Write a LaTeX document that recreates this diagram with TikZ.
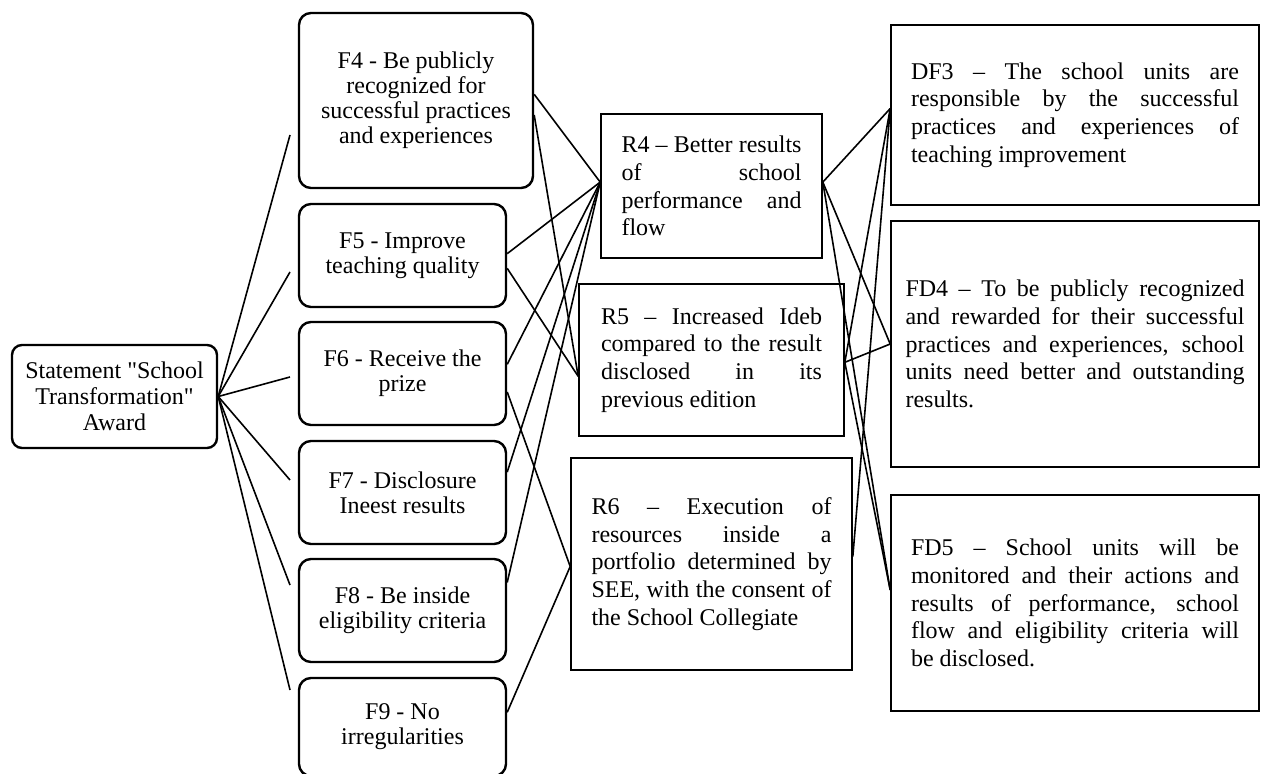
\documentclass[tikz,border=0pt]{standalone}
\usepackage{fontspec}
\setmainfont{Liberation Serif}[Ligatures=TeXOff]
\hyphenpenalty=10000
\tolerance=10000
\hbadness=10000

\begin{document}
\begin{tikzpicture}[x=0.5pt,y=-0.5pt]
            \tikzset{
            aw node/.style={draw,rounded corners=5pt,line width=1.2pt,align=center,inner sep=0,minimum width=102.5pt,minimum height=51.5pt,font=\fontsize{12}{13}\selectfont},
            fa node/.style={draw,rounded corners=6pt,line width=1.2pt,align=center,inner sep=0,minimum width=103.5pt,minimum height=51.5pt,font=\fontsize{12}{12.5}\selectfont},
            rs node/.style={draw,line width=0.8pt,align=justify,inner ysep=0,font=\fontsize{12}{13.8}\selectfont},
            link/.style={line width=0.8pt}
            }
            \useasboundingbox (0,0) rectangle (1261,774);
            \node[aw node] (St) at (114.5,396.5) {Statement "School\\Transformation"\\Award};
            \node[fa node,minimum width=117pt,minimum height=87.5pt] (F4) at (416,100.5) {F4 - Be publicly\\recognized for\\successful practices\\and experiences};
            \node[fa node] (F5) at (402.5,255.5) {F5 - Improve\\teaching quality};
            \node[fa node] (F6) at (402.5,373.5) {F6 - Receive the\\prize};
            \node[fa node] (F7) at (402.5,492.5) {F7 - Disclosure\\Ineest results};
            \node[fa node] (F8) at (402.5,610.5) {F8 - Be inside\\eligibility criteria};
            \node[fa node,minimum height=49pt] (F9) at (402.5,727) {F9 - No\\irregularities};
            \node[rs node,text width=90pt,inner xsep=10.25pt,minimum height=72pt] (R4) at (711.5,186) {R4 – Better results\linebreak of school\linebreak performance and\linebreak flow};
            \node[rs node,text width=110.5pt,inner xsep=11pt,minimum height=76pt] (R5) at (711.5,360) {R5 – Increased Ideb\linebreak compared to the result\linebreak disclosed in its\linebreak previous edition};
            \node[rs node,text width=120pt,inner xsep=10.25pt,minimum height=106pt] (R6) at (711.5,564) {R6 – Execution of\linebreak resources inside a\linebreak portfolio determined by\linebreak SEE, with the consent of\linebreak the School Collegiate};
            \node[rs node,text width=164pt,inner xsep=10pt,minimum height=90pt] (DF3) at (1075,115) {DF3 – The school units are\linebreak responsible by the successful\linebreak practices and experiences of\linebreak teaching improvement};
            \node[rs node,text width=169.5pt,inner xsep=7.25pt,minimum height=123pt] (FD4) at (1075,344) {FD4 – To be publicly recognized\linebreak and rewarded for their successful\linebreak practices and experiences, school\linebreak units need better and outstanding\linebreak results.};
            \node[rs node,text width=164pt,inner xsep=10pt,minimum height=108pt] (FD5) at (1075,603) {FD5 – School units will be\linebreak monitored and their actions and\linebreak results of performance, school\linebreak flow and eligibility criteria will\linebreak be disclosed.};
            \coordinate (f4a) at (290,135);
            \coordinate (f5a) at (290,272);
            \coordinate (f6a) at (290,377);
            \coordinate (f7a) at (290,480);
            \coordinate (f8a) at (290,585);
            \coordinate (f9a) at (290,690);

            \path[draw,link]
            (St.east) edge (f4a)
            (St.east) edge (f5a)
            (St.east) edge (f6a)
            (St.east) edge (f7a)
            (St.east) edge (f8a)
            (St.east) edge (f9a)
            (F4.3) edge (R4.178)
            (F4.-7) edge (R5.187)
            (F5.1) edge (R4.178)
            (F5.-7) edge (R5.187)
            (F6.5) edge (R4.178)
            (F6.-10) edge (R6.181)
            (F7.11) edge (R4.178)
            (F8.15) edge (R4.178)
            (F9.8) edge (R6.181)
            (R4.2) edge (DF3.178)
            (R4.2) edge (FD4.180)
            (R4.2) edge (FD5.176)
            (R5.-1) edge (DF3.178)
            (R5.-1) edge (FD4.180)
            (R5.-1) edge (FD5.176)
            (R6.3) edge (DF3.178)
            ;
\end{tikzpicture}
\end{document}
